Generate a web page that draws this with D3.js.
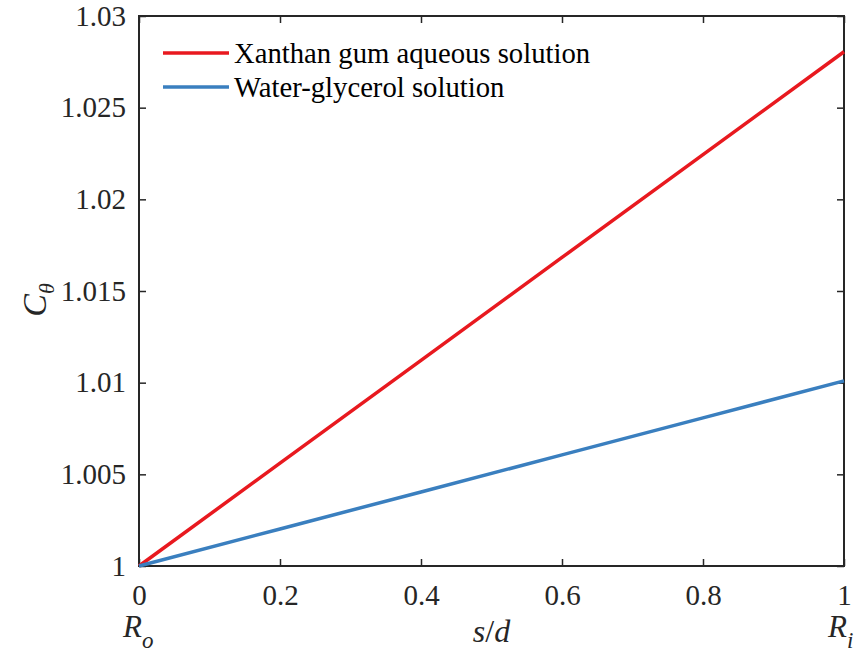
<!DOCTYPE html>
<html>
<head>
<meta charset="utf-8">
<script src="https://cdn.jsdelivr.net/npm/d3@7"></script>
<style>
  body { margin: 0; background: #fff; }
  svg { display: block; font-family: "Liberation Serif", "Times New Roman", serif; }
  svg text { font-family: "Liberation Serif", "Times New Roman", serif !important; }
</style>
</head>
<body>
<svg id="chart" width="863" height="654"></svg>
<script>
// data
const sValues = [0, 0.2, 0.4, 0.6, 0.8, 1];
const xanthan = [1, 1.00561, 1.01122, 1.01683, 1.02244, 1.02805];
const glycerol = [1, 1.00202, 1.00404, 1.00606, 1.00808, 1.0101];
const seriesNames = ['Xanthan gum aqueous solution', 'Water-glycerol solution'];
const seriesColors = ['#e8191f', '#3a7fbf'];
const xTicks = [0, 0.2, 0.4, 0.6, 0.8, 1];
const yTicks = [1, 1.005, 1.01, 1.015, 1.02, 1.025, 1.03];

const margin = { top: 16, right: 19, bottom: 88, left: 139 };
const width = 863 - margin.left - margin.right;
const height = 654 - margin.top - margin.bottom;
const axisColor = '#262626';
const serif = '"Liberation Serif", "Times New Roman", serif';

const svg = d3.select('#chart');
const g = svg.append('g').attr('transform', `translate(${margin.left},${margin.top})`);

const x = d3.scaleLinear().domain([0, 1]).range([0, width]);
const y = d3.scaleLinear().domain([1, 1.03]).range([height, 0]);

const fmtY = d => d3.format('.3~f')(d);
const fmtX = d => d3.format('~g')(d);

// axes (ticks inward, box on)
function styleAxis(sel) {
  sel.attr('font-family', null);
  sel.select('.domain').remove();
  sel.selectAll('.tick line').attr('stroke', axisColor).attr('stroke-width', 1.5);
  sel.selectAll('.tick text')
    .attr('fill', axisColor)
    .style('font-family', serif)
    .style('font-size', '29px');
}

g.append('g')
  .attr('transform', `translate(0,${height})`)
  .call(d3.axisBottom(x).tickValues(xTicks).tickFormat(fmtX).tickSizeInner(-7).tickPadding(18))
  .call(styleAxis);

g.append('g')
  .call(d3.axisTop(x).tickValues(xTicks).tickFormat('').tickSizeInner(-7))
  .call(styleAxis);

g.append('g')
  .call(d3.axisLeft(y).tickValues(yTicks).tickFormat(fmtY).tickSizeInner(-7).tickPadding(13))
  .call(styleAxis);

g.append('g')
  .attr('transform', `translate(${width},0)`)
  .call(d3.axisRight(y).tickValues(yTicks).tickFormat('').tickSizeInner(-7))
  .call(styleAxis);

// box
g.append('rect')
  .attr('width', width)
  .attr('height', height)
  .attr('fill', 'none')
  .attr('stroke', axisColor)
  .attr('stroke-width', 2);

// lines
const line = d3.line()
  .x((d, i) => x(sValues[i]))
  .y(d => y(d));

[xanthan, glycerol].forEach((vals, i) => {
  g.append('path')
    .datum(vals)
    .attr('fill', 'none')
    .attr('stroke', seriesColors[i])
    .attr('stroke-width', 3.5)
    .attr('d', line);
});

// legend
const legend = g.append('g').attr('transform', 'translate(24,37)');
seriesNames.forEach((name, i) => {
  const row = legend.append('g').attr('transform', `translate(0,${i * 34})`);
  row.append('line')
    .attr('x1', 0).attr('x2', 66)
    .attr('stroke', seriesColors[i])
    .attr('stroke-width', 3.5);
  row.append('text')
    .attr('x', 71)
    .attr('y', 10)
    .attr('fill', '#000')
    .style('font-size', '28.7px')
    .text(name);
});

// axis labels
svg.append('text')
  .attr('transform', 'translate(46,300) rotate(-90)')
  .attr('text-anchor', 'middle')
  .attr('fill', axisColor)
  .style('font-size', '34px')
  .html('<tspan font-style="italic">C</tspan><tspan font-style="italic" font-size="22px" dy="8">θ</tspan>');

svg.append('text')
  .attr('x', margin.left + width / 2)
  .attr('y', 642)
  .attr('text-anchor', 'middle')
  .attr('fill', axisColor)
  .style('font-size', '32px')
  .html('<tspan font-style="italic">s</tspan><tspan>/</tspan><tspan font-style="italic">d</tspan>');

// R_o and R_i under the end ticks
[['o', 0], ['i', 1]].forEach(([sub, v]) => {
  const t = svg.append('text')
    .attr('x', margin.left + x(v) - 16)
    .attr('y', 637)
    .attr('fill', axisColor)
    .style('font-size', '31px')
    .style('font-style', 'italic');
  t.append('tspan').text('R');
  t.append('tspan').attr('dy', 11).style('font-size', '23px').text(sub);
});
</script>
</body>
</html>
